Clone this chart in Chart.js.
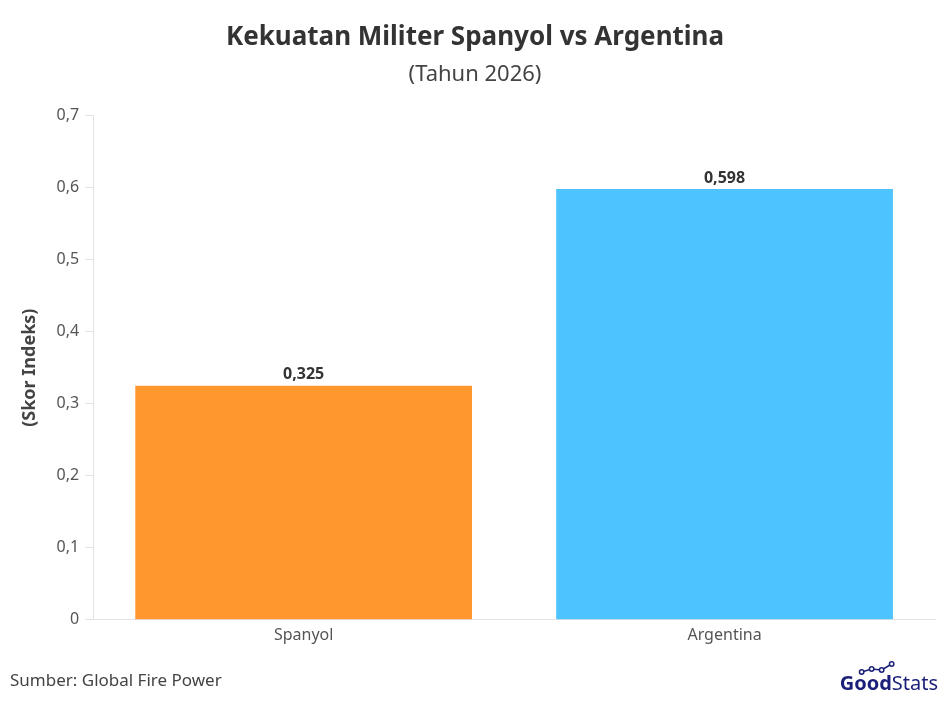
<!DOCTYPE html>
<html>
<head>
<meta charset="utf-8">
<script src="https://cdn.jsdelivr.net/npm/chart.js@4/dist/chart.umd.min.js"></script>
<style>
html,body{margin:0;padding:0;background:#fff;}
#wrap{width:943px;height:706px;}
</style>
</head>
<body>
<div id="wrap"><canvas id="c" width="943" height="706"></canvas></div>
<script>
const categories = ["Spanyol", "Argentina"];
const values = [0.325, 0.598];
const barColors = ["#FF962E", "#4DC3FF"];
const titleText = "Kekuatan Militer Spanyol vs Argentina";
const subtitleText = "(Tahun 2026)";
const yAxisTitle = "(Skor Indeks)";
const sourceText = "Sumber: Global Fire Power";

const FONT = "'Noto Sans', sans-serif";

const fmt = (v, d) => v.toFixed(d).replace('.', ',');

const labelPlugin = {
  id: 'labels',
  afterDatasetsDraw(chart) {
    const ctx = chart.ctx;
    const meta = chart.getDatasetMeta(0);
    ctx.save();
    ctx.font = "bold 16px " + FONT;
    ctx.fillStyle = "#333";
    ctx.textAlign = "center";
    ctx.textBaseline = "bottom";
    meta.data.forEach((bar, i) => {
      ctx.fillText(fmt(values[i], 3), bar.x, bar.y - 3);
    });
    ctx.restore();
  },
  afterDraw(chart) {
    const ctx = chart.ctx;
    ctx.save();
    ctx.font = "17px " + FONT;
    ctx.fillStyle = "#444";
    ctx.textAlign = "left";
    ctx.textBaseline = "middle";
    ctx.fillText(sourceText, 10, 681);
    ctx.font = "bold 20px " + FONT;
    ctx.fillStyle = "#1B1F7A";
    const g = "Good";
    const wg = ctx.measureText(g).width;
    ctx.font = "20px " + FONT;
    const ws = ctx.measureText("Stats").width;
    const x0 = 938 - wg - ws;
    ctx.font = "bold 20px " + FONT;
    ctx.fillText(g, x0, 684);
    ctx.font = "20px " + FONT;
    ctx.fillText("Stats", x0 + wg, 684);
    ctx.strokeStyle = "#1B1F7A";
    ctx.lineWidth = 1.5;
    const pts = [[x0+22,672],[x0+32,669],[x0+42,670],[x0+52,664]];
    ctx.beginPath();
    pts.forEach((p,i)=>{ if(i===0) ctx.moveTo(p[0],p[1]); else ctx.lineTo(p[0],p[1]); });
    ctx.stroke();
    pts.forEach(p=>{ ctx.beginPath(); ctx.arc(p[0],p[1],2.2,0,Math.PI*2); ctx.fillStyle="#fff"; ctx.fill(); ctx.stroke(); });
    ctx.restore();
  }
};

new Chart(document.getElementById('c'), {
  type: 'bar',
  data: {
    labels: categories,
    datasets: [{
      data: values,
      backgroundColor: barColors,
      borderWidth: 0,
      categoryPercentage: 0.8,
      barPercentage: 1.0
    }]
  },
  options: {
    responsive: false,
    animation: false,
    devicePixelRatio: 1,
    layout: { padding: { left: 15, right: 8, top: 12, bottom: 55 } },
    plugins: {
      legend: { display: false },
      tooltip: { enabled: false },
      title: {
        display: true,
        text: titleText,
        font: { family: FONT, size: 26, weight: 'bold' },
        color: '#333',
        padding: { top: 10, bottom: 8 }
      },
      subtitle: {
        display: true,
        text: subtitleText,
        font: { family: FONT, size: 22 },
        color: '#444',
        padding: { bottom: 28 }
      }
    },
    scales: {
      x: {
        grid: { display: false, drawTicks: false },
        border: { display: true, color: '#e3e3e3' },
        ticks: { font: { family: FONT, size: 16 }, color: '#555', padding: 6 }
      },
      y: {
        min: 0, max: 0.7,
        ticks: {
          stepSize: 0.1,
          font: { family: FONT, size: 16 },
          color: '#555',
          padding: 6,
          callback: (v) => v === 0 ? '0' : fmt(v, 1)
        },
        grid: { drawOnChartArea: false, drawTicks: true, tickLength: 8, color: '#e3e3e3' },
        border: { display: true, color: '#e3e3e3' },
        title: {
          display: true,
          text: yAxisTitle,
          font: { family: FONT, size: 18, weight: 'bold' },
          color: '#444',
          padding: { bottom: 10 }
        }
      }
    }
  },
  plugins: [labelPlugin]
});
</script>
</body>
</html>
